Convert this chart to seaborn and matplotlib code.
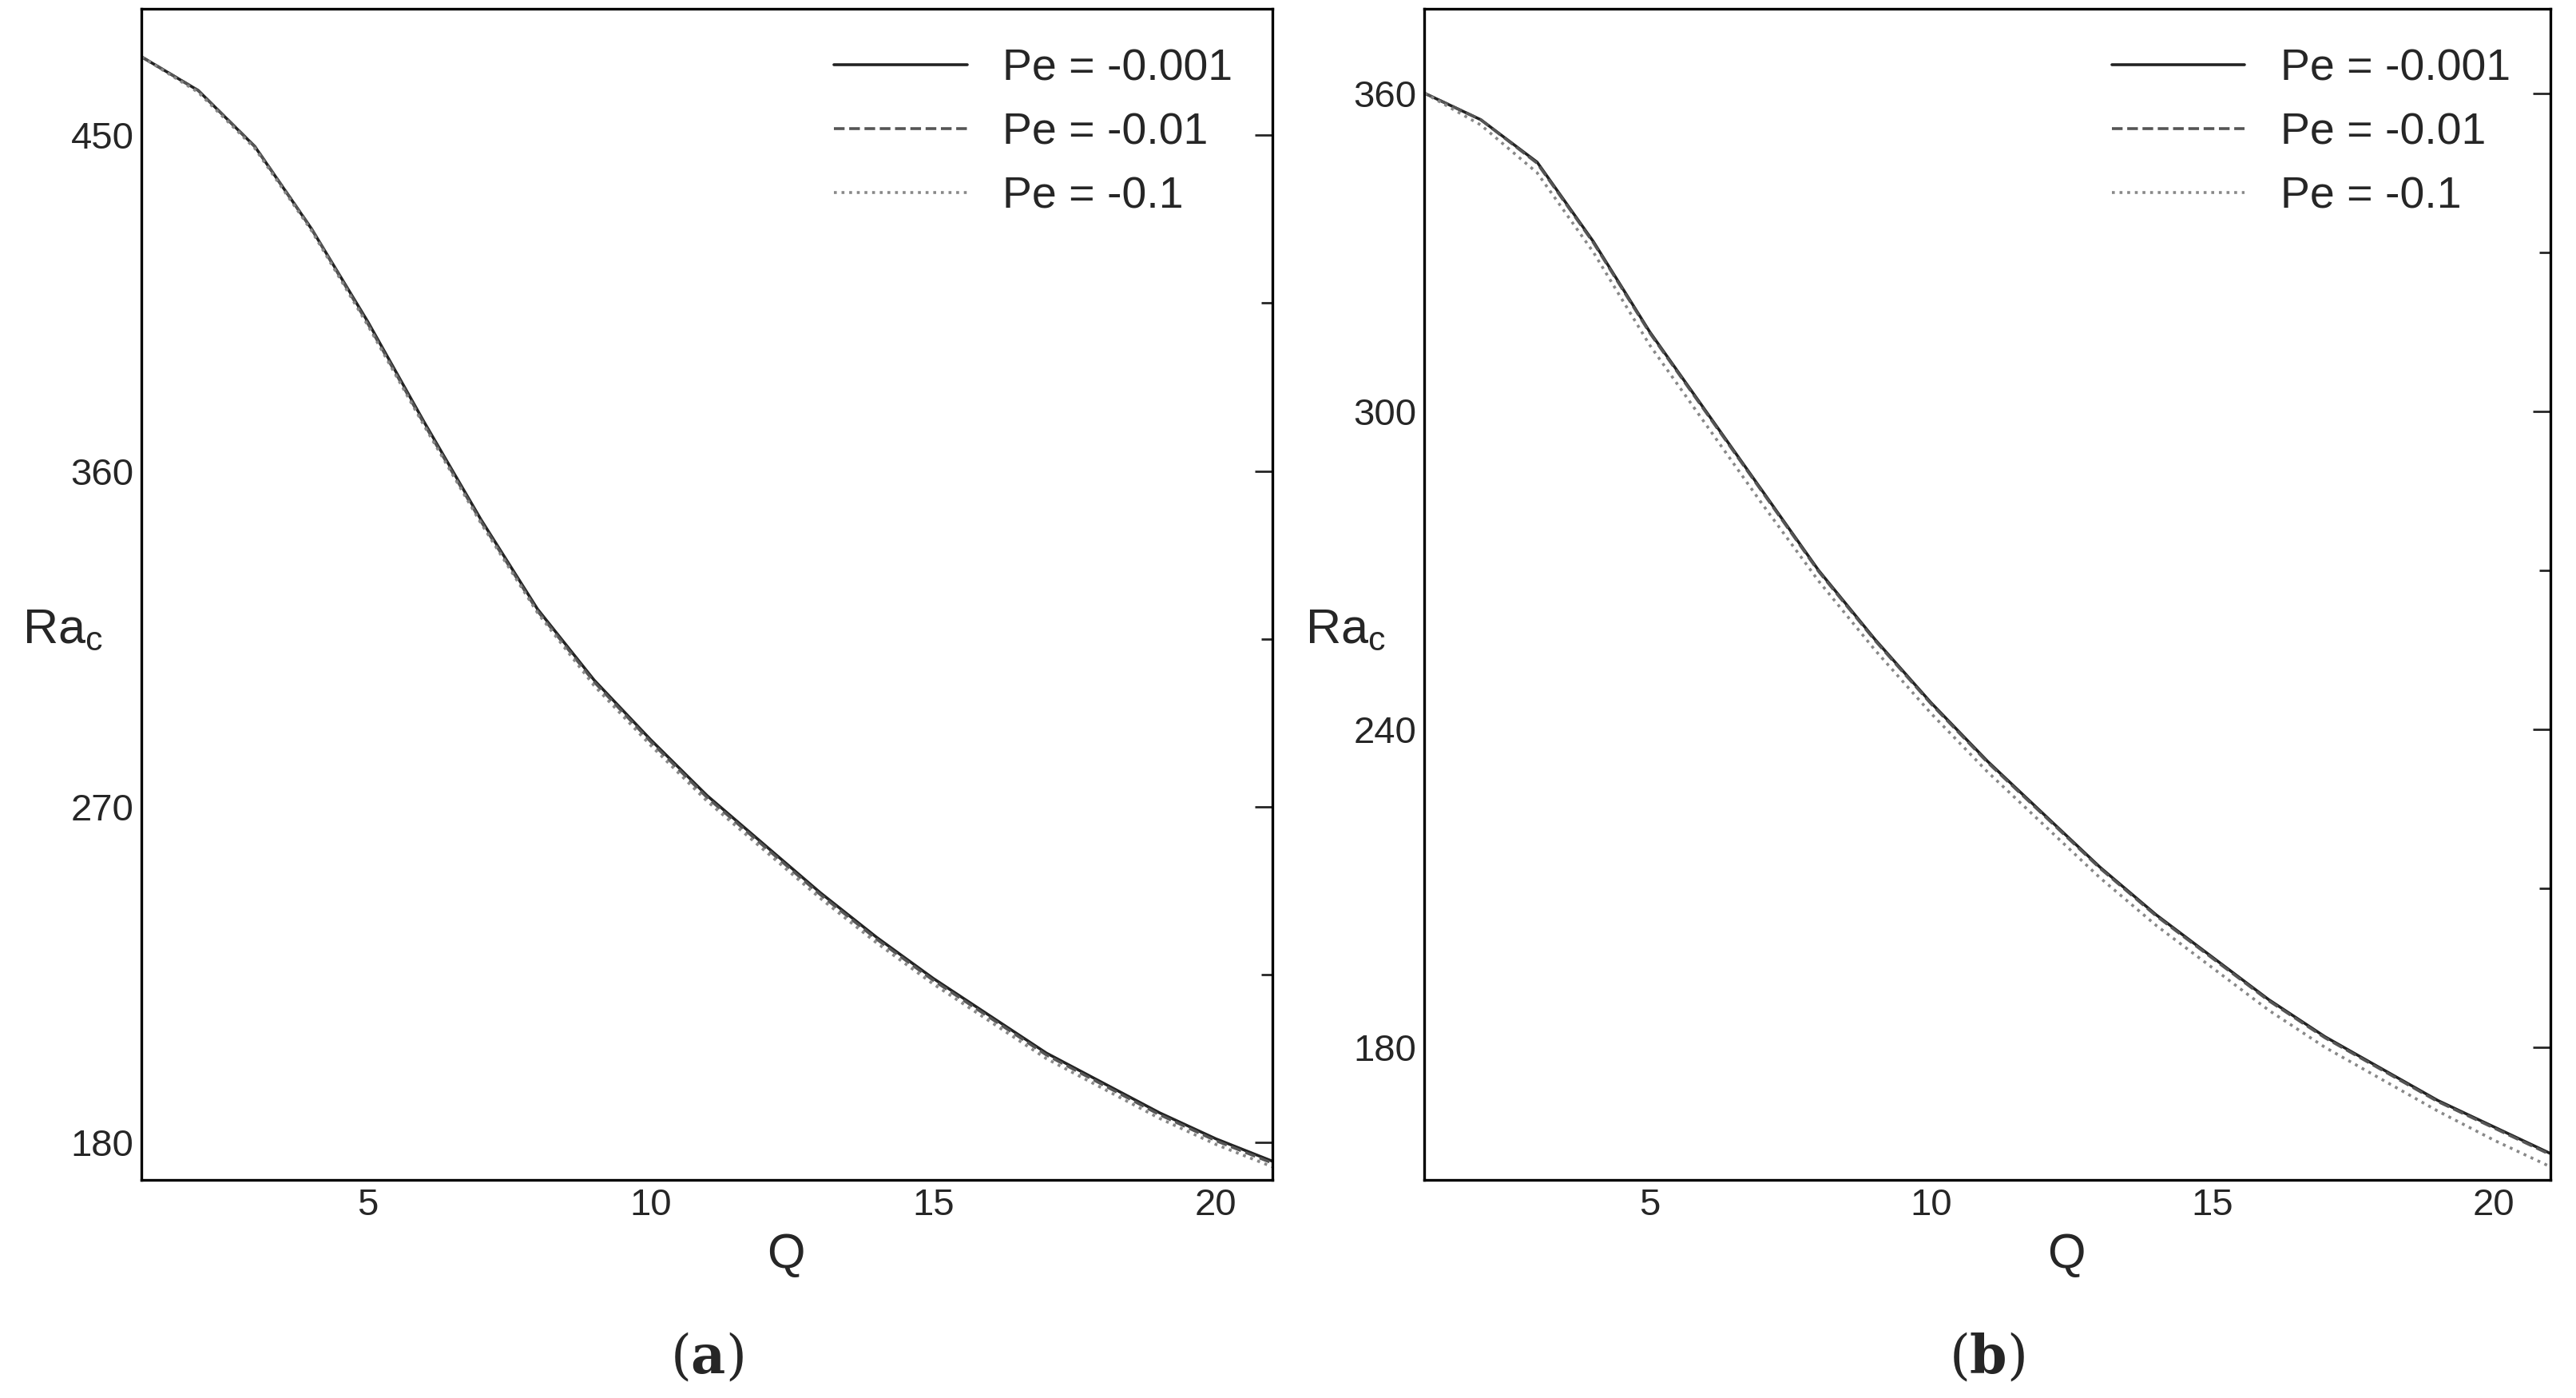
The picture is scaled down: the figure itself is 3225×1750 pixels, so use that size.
import numpy as np
import matplotlib
matplotlib.use("Agg")
import matplotlib.pyplot as plt
import seaborn as sns
import pandas as pd
from matplotlib.ticker import MultipleLocator

sns.set_theme(style="white")
plt.rcParams['font.family'] = ['Liberation Sans', 'DejaVu Sans']
plt.rcParams['mathtext.fontset'] = 'dejavuserif'

Q = list(range(1, 22))

# panel (a)
ra_a_0001 = [471, 462, 447, 425, 400, 373, 347, 323, 304, 288, 273, 260, 247, 235, 224, 214, 204, 196, 188, 181, 175]
ra_a_001 = [471, 462, 447, 425, 399.5, 372.5, 346.5, 322.5, 303.5, 287.5, 272.5, 259.5, 246.5, 234.5, 223.5, 213.5, 203.5, 195.5, 187.5, 180.5, 174.5]
ra_a_01 = [471, 461.5, 446.5, 424.5, 399, 372, 346, 322, 302.5, 286.5, 271.5, 258.5, 245.5, 233.5, 222.5, 212.5, 202.5, 194.5, 186.5, 179.5, 173.5]

# panel (b)
ra_b_0001 = [360, 355, 347, 332, 315, 300, 285, 270, 257, 245, 234, 224, 214, 205, 197, 189, 182, 176, 170, 165, 160]
ra_b_001 = [360, 355, 346.8, 331.8, 314.8, 299.8, 284.8, 269.8, 256.8, 244.8, 233.8, 223.8, 213.8, 204.8, 196.8, 188.8, 181.8, 175.8, 169.8, 164.8, 159.8]
ra_b_01 = [360, 354, 345, 330, 312.5, 297.5, 282.5, 268, 255, 243, 232, 222, 212, 203, 195, 187, 180, 174, 168, 162.5, 157.5]

labels = ['Pe = -0.001', 'Pe = -0.01', 'Pe = -0.1']
styles = ['-', '--', ':']
colors = ['#222222', '#555555', '#888888']

fig = plt.figure(figsize=(16.125, 8.75), dpi=200)
ax_a = fig.add_axes([0.055, 0.156, 0.439, 0.838])
ax_b = fig.add_axes([0.553, 0.156, 0.437, 0.838])

panels = [
    (ax_a, [ra_a_0001, ra_a_001, ra_a_01], (170, 484), 90, 45, 'a'),
    (ax_b, [ra_b_0001, ra_b_001, ra_b_01], (155, 376), 60, 30, 'b'),
]

for ax, series, ylim, major, minor, tag in panels:
    for ys, lab, ls, c in zip(series, labels, styles, colors):
        df = pd.DataFrame({'Q': Q, 'Ra': ys})
        sns.lineplot(data=df, x='Q', y='Ra', ax=ax, label=lab, linestyle=ls,
                     color=c, linewidth=1.3)
    ax.set_xlim(1, 21)
    ax.set_ylim(*ylim)
    ax.xaxis.set_major_locator(MultipleLocator(5))
    ax.xaxis.set_minor_locator(MultipleLocator(2.5))
    ax.yaxis.set_major_locator(MultipleLocator(major))
    ax.yaxis.set_minor_locator(MultipleLocator(minor))
    ax.tick_params(which='both', direction='in', right=True, labelsize=17)
    ax.tick_params(which='major', length=8, width=1)
    ax.tick_params(which='minor', length=5, width=1)
    for s in ax.spines.values():
        s.set_color('black')
        s.set_linewidth(1.2)
    ax.set_xlabel('Q', fontsize=22)
    ax.xaxis.set_label_coords(0.57, -0.045)
    ax.set_ylabel('Ra$_\\mathregular{c}$', fontsize=22, rotation=0)
    ax.yaxis.set_label_coords(-0.07, 0.45)
    ax.legend(loc='upper right', frameon=False, fontsize=20, handlelength=3)
    ax.text(0.5, -0.13, '($\\mathbf{' + tag + '}$)', transform=ax.transAxes,
            ha='center', va='top', fontsize=24, family='DejaVu Serif')

fig.savefig('out.png', dpi=200)
